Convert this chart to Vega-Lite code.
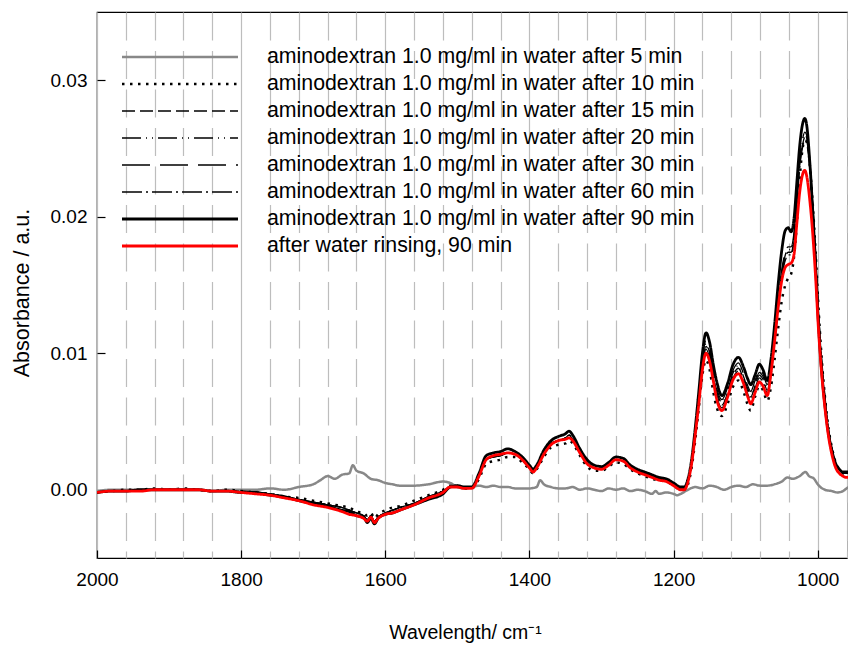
{
"$schema": "https://vega.github.io/schema/vega-lite/v6.json",
"width": 751, "height": 546,
"autosize": {"type": "none"},
"padding": {"left": 97, "top": 12, "right": 0, "bottom": 87},
"background": "white",
"config": {
 "font": "Liberation Sans",
 "view": {"stroke": "#000", "strokeWidth": 1.2},
 "axis": {"domain": false, "labelFont": "Liberation Sans", "titleFont": "Liberation Sans", "labelColor": "#000", "titleColor": "#000", "tickColor": "#000", "titleFontWeight": "normal", "tickWidth": 1.2}
},
"data": {"values": [
{"s":"5","w":2000,"a":-0.0001},{"s":"5","w":1980,"a":0},{"s":"5","w":1960,"a":0},{"s":"5","w":1940,"a":0},{"s":"5","w":1920,"a":0},{"s":"5","w":1900,"a":0},{"s":"5","w":1880,"a":0},{"s":"5","w":1860,"a":0},{"s":"5","w":1840,"a":-0.0001},{"s":"5","w":1820,"a":0},{"s":"5","w":1800,"a":0},{"s":"5","w":1780,"a":0},{"s":"5","w":1760,"a":0.0001},{"s":"5","w":1740,"a":0},{"s":"5","w":1720,"a":0.0002},{"s":"5","w":1700,"a":0.0004},{"s":"5","w":1690,"a":0.0007},{"s":"5","w":1680,"a":0.001},{"s":"5","w":1670,"a":0.0008},{"s":"5","w":1660,"a":0.0011},{"s":"5","w":1650,"a":0.0012},{"s":"5","w":1645,"a":0.0018},{"s":"5","w":1640,"a":0.0014},{"s":"5","w":1630,"a":0.0012},{"s":"5","w":1620,"a":0.0008},{"s":"5","w":1610,"a":0.0007},{"s":"5","w":1600,"a":0.0005},{"s":"5","w":1590,"a":0.0004},{"s":"5","w":1580,"a":0.0003},{"s":"5","w":1560,"a":0.0003},{"s":"5","w":1540,"a":0.0004},{"s":"5","w":1520,"a":0.0006},{"s":"5","w":1510,"a":0.0005},{"s":"5","w":1500,"a":0.0002},{"s":"5","w":1490,"a":0.0001},{"s":"5","w":1480,"a":0.0002},{"s":"5","w":1470,"a":0.0003},{"s":"5","w":1460,"a":0.0002},{"s":"5","w":1450,"a":0.0003},{"s":"5","w":1440,"a":0.0002},{"s":"5","w":1430,"a":0.0002},{"s":"5","w":1420,"a":0.0001},{"s":"5","w":1410,"a":0.0001},{"s":"5","w":1400,"a":0.0001},{"s":"5","w":1390,"a":0.0002},{"s":"5","w":1385,"a":0.0007},{"s":"5","w":1380,"a":0.0004},{"s":"5","w":1370,"a":0.0002},{"s":"5","w":1360,"a":0.0001},{"s":"5","w":1350,"a":0.0001},{"s":"5","w":1340,"a":0.0002},{"s":"5","w":1330,"a":0},{"s":"5","w":1320,"a":0.0001},{"s":"5","w":1310,"a":0},{"s":"5","w":1300,"a":-0.0001},{"s":"5","w":1290,"a":0.0001},{"s":"5","w":1280,"a":0},{"s":"5","w":1270,"a":0.0001},{"s":"5","w":1260,"a":-0.0001},{"s":"5","w":1250,"a":0},{"s":"5","w":1240,"a":-0.0001},{"s":"5","w":1230,"a":-0.0003},{"s":"5","w":1225,"a":-0.0001},{"s":"5","w":1220,"a":-0.0003},{"s":"5","w":1210,"a":-0.0002},{"s":"5","w":1200,"a":-0.0003},{"s":"5","w":1195,"a":-0.0004},{"s":"5","w":1190,"a":-0.0003},{"s":"5","w":1180,"a":0},{"s":"5","w":1170,"a":0.0002},{"s":"5","w":1160,"a":0.0001},{"s":"5","w":1150,"a":0.0003},{"s":"5","w":1140,"a":0.0002},{"s":"5","w":1130,"a":0},{"s":"5","w":1120,"a":0.0002},{"s":"5","w":1110,"a":0.0003},{"s":"5","w":1100,"a":0.0002},{"s":"5","w":1090,"a":0.0004},{"s":"5","w":1080,"a":0.0003},{"s":"5","w":1070,"a":0.0003},{"s":"5","w":1060,"a":0.0004},{"s":"5","w":1050,"a":0.0006},{"s":"5","w":1042,"a":0.0009},{"s":"5","w":1035,"a":0.0008},{"s":"5","w":1025,"a":0.001},{"s":"5","w":1017,"a":0.0013},{"s":"5","w":1012,"a":0.001},{"s":"5","w":1005,"a":0.0008},{"s":"5","w":1000,"a":0.0004},{"s":"5","w":990,"a":0},{"s":"5","w":980,"a":-0.0001},{"s":"5","w":973,"a":-0.0002},{"s":"5","w":965,"a":-0.0001},{"s":"5","w":960,"a":0.0001},{"s":"5","w":957,"a":0.0002},

{"s":"10","w":2000,"a":-0.0002},{"s":"10","w":1980,"a":-0.0001},{"s":"10","w":1960,"a":0},{"s":"10","w":1940,"a":0},{"s":"10","w":1920,"a":0.0001},{"s":"10","w":1900,"a":0},{"s":"10","w":1880,"a":0.0001},{"s":"10","w":1860,"a":0},{"s":"10","w":1840,"a":-0.0001},{"s":"10","w":1820,"a":0},{"s":"10","w":1800,"a":-0.0001},{"s":"10","w":1780,"a":-0.0002},{"s":"10","w":1760,"a":-0.0003},{"s":"10","w":1740,"a":-0.0005},{"s":"10","w":1720,"a":-0.0006},{"s":"10","w":1700,"a":-0.0008},{"s":"10","w":1680,"a":-0.001},{"s":"10","w":1660,"a":-0.0012},{"s":"10","w":1650,"a":-0.0013},{"s":"10","w":1640,"a":-0.0016},{"s":"10","w":1630,"a":-0.0017},{"s":"10","w":1625,"a":-0.0019},{"s":"10","w":1620,"a":-0.0017},{"s":"10","w":1615,"a":-0.0021},{"s":"10","w":1610,"a":-0.0018},{"s":"10","w":1600,"a":-0.0015},{"s":"10","w":1590,"a":-0.0013},{"s":"10","w":1580,"a":-0.0012},{"s":"10","w":1560,"a":-0.0008},{"s":"10","w":1540,"a":-0.0004},{"s":"10","w":1520,"a":0},{"s":"10","w":1510,"a":0.0003},{"s":"10","w":1500,"a":0.0003},{"s":"10","w":1490,"a":0.0001},{"s":"10","w":1480,"a":0.0001},{"s":"10","w":1470,"a":0.0008},{"s":"10","w":1460,"a":0.0019},{"s":"10","w":1450,"a":0.0021},{"s":"10","w":1440,"a":0.0022},{"s":"10","w":1430,"a":0.0024},{"s":"10","w":1420,"a":0.0024},{"s":"10","w":1410,"a":0.002},{"s":"10","w":1400,"a":0.0015},{"s":"10","w":1395,"a":0.0012},{"s":"10","w":1390,"a":0.0015},{"s":"10","w":1380,"a":0.0024},{"s":"10","w":1370,"a":0.0031},{"s":"10","w":1360,"a":0.0033},{"s":"10","w":1350,"a":0.0034},{"s":"10","w":1345,"a":0.0036},{"s":"10","w":1340,"a":0.0034},{"s":"10","w":1330,"a":0.0025},{"s":"10","w":1320,"a":0.0017},{"s":"10","w":1310,"a":0.0014},{"s":"10","w":1300,"a":0.0014},{"s":"10","w":1290,"a":0.0017},{"s":"10","w":1280,"a":0.002},{"s":"10","w":1270,"a":0.0019},{"s":"10","w":1260,"a":0.0015},{"s":"10","w":1250,"a":0.0012},{"s":"10","w":1240,"a":0.001},{"s":"10","w":1230,"a":0.0008},{"s":"10","w":1220,"a":0.0007},{"s":"10","w":1210,"a":0.0006},{"s":"10","w":1200,"a":0.0003},{"s":"10","w":1190,"a":0},{"s":"10","w":1185,"a":0},{"s":"10","w":1180,"a":0.0004},{"s":"10","w":1175,"a":0.0016},{"s":"10","w":1170,"a":0.0036},{"s":"10","w":1165,"a":0.006},{"s":"10","w":1160,"a":0.0084},{"s":"10","w":1155,"a":0.0095},{"s":"10","w":1150,"a":0.0088},{"s":"10","w":1145,"a":0.0072},{"s":"10","w":1140,"a":0.006},{"s":"10","w":1133,"a":0.0054},{"s":"10","w":1125,"a":0.0063},{"s":"10","w":1118,"a":0.0075},{"s":"10","w":1110,"a":0.008},{"s":"10","w":1103,"a":0.0072},{"s":"10","w":1097,"a":0.0062},{"s":"10","w":1093,"a":0.0058},{"s":"10","w":1087,"a":0.0068},{"s":"10","w":1081,"a":0.0076},{"s":"10","w":1076,"a":0.0073},{"s":"10","w":1070,"a":0.0065},{"s":"10","w":1065,"a":0.0075},{"s":"10","w":1060,"a":0.0095},{"s":"10","w":1055,"a":0.0118},{"s":"10","w":1050,"a":0.0138},{"s":"10","w":1045,"a":0.015},{"s":"10","w":1041,"a":0.0155},{"s":"10","w":1037,"a":0.0158},{"s":"10","w":1033,"a":0.017},{"s":"10","w":1029,"a":0.0195},{"s":"10","w":1025,"a":0.0228},{"s":"10","w":1021,"a":0.025},{"s":"10","w":1018,"a":0.0256},{"s":"10","w":1015,"a":0.0255},{"s":"10","w":1011,"a":0.0238},{"s":"10","w":1007,"a":0.021},{"s":"10","w":1003,"a":0.0175},{"s":"10","w":999,"a":0.0134},{"s":"10","w":995,"a":0.01},{"s":"10","w":990,"a":0.0068},{"s":"10","w":985,"a":0.0045},{"s":"10","w":980,"a":0.003},{"s":"10","w":975,"a":0.002},{"s":"10","w":970,"a":0.0015},{"s":"10","w":965,"a":0.0012},{"s":"10","w":960,"a":0.0011},{"s":"10","w":957,"a":0.0011},

{"s":"15","w":2000,"a":-0.0002},{"s":"15","w":1980,"a":-0.0001},{"s":"15","w":1960,"a":-0.0001},{"s":"15","w":1940,"a":0},{"s":"15","w":1920,"a":0},{"s":"15","w":1900,"a":0},{"s":"15","w":1880,"a":0},{"s":"15","w":1860,"a":0},{"s":"15","w":1840,"a":-0.0001},{"s":"15","w":1820,"a":-0.0001},{"s":"15","w":1800,"a":-0.0001},{"s":"15","w":1780,"a":-0.0002},{"s":"15","w":1760,"a":-0.0003},{"s":"15","w":1740,"a":-0.0005},{"s":"15","w":1720,"a":-0.0007},{"s":"15","w":1700,"a":-0.0009},{"s":"15","w":1680,"a":-0.0011},{"s":"15","w":1660,"a":-0.0013},{"s":"15","w":1650,"a":-0.0015},{"s":"15","w":1640,"a":-0.0017},{"s":"15","w":1630,"a":-0.0019},{"s":"15","w":1625,"a":-0.0022},{"s":"15","w":1620,"a":-0.0019},{"s":"15","w":1615,"a":-0.0023},{"s":"15","w":1610,"a":-0.002},{"s":"15","w":1600,"a":-0.0017},{"s":"15","w":1590,"a":-0.0015},{"s":"15","w":1580,"a":-0.0013},{"s":"15","w":1560,"a":-0.001},{"s":"15","w":1540,"a":-0.0005},{"s":"15","w":1520,"a":-0.0001},{"s":"15","w":1510,"a":0.0002},{"s":"15","w":1500,"a":0.0003},{"s":"15","w":1490,"a":0.0002},{"s":"15","w":1480,"a":0.0001},{"s":"15","w":1470,"a":0.001},{"s":"15","w":1460,"a":0.0022},{"s":"15","w":1450,"a":0.0024},{"s":"15","w":1440,"a":0.0025},{"s":"15","w":1430,"a":0.0027},{"s":"15","w":1420,"a":0.0026},{"s":"15","w":1410,"a":0.0022},{"s":"15","w":1400,"a":0.0016},{"s":"15","w":1395,"a":0.0014},{"s":"15","w":1390,"a":0.0016},{"s":"15","w":1380,"a":0.0026},{"s":"15","w":1370,"a":0.0034},{"s":"15","w":1360,"a":0.0036},{"s":"15","w":1350,"a":0.0038},{"s":"15","w":1345,"a":0.004},{"s":"15","w":1340,"a":0.0037},{"s":"15","w":1330,"a":0.0028},{"s":"15","w":1320,"a":0.002},{"s":"15","w":1310,"a":0.0016},{"s":"15","w":1300,"a":0.0015},{"s":"15","w":1290,"a":0.0019},{"s":"15","w":1280,"a":0.0022},{"s":"15","w":1270,"a":0.0021},{"s":"15","w":1260,"a":0.0017},{"s":"15","w":1250,"a":0.0014},{"s":"15","w":1240,"a":0.0012},{"s":"15","w":1230,"a":0.001},{"s":"15","w":1220,"a":0.0008},{"s":"15","w":1210,"a":0.0007},{"s":"15","w":1200,"a":0.0004},{"s":"15","w":1190,"a":0.0001},{"s":"15","w":1185,"a":0.0001},{"s":"15","w":1180,"a":0.0006},{"s":"15","w":1175,"a":0.0019},{"s":"15","w":1170,"a":0.0041},{"s":"15","w":1165,"a":0.0066},{"s":"15","w":1160,"a":0.0092},{"s":"15","w":1155,"a":0.0105},{"s":"15","w":1150,"a":0.0098},{"s":"15","w":1145,"a":0.0082},{"s":"15","w":1140,"a":0.007},{"s":"15","w":1133,"a":0.0062},{"s":"15","w":1125,"a":0.0071},{"s":"15","w":1118,"a":0.0083},{"s":"15","w":1110,"a":0.0089},{"s":"15","w":1103,"a":0.0081},{"s":"15","w":1097,"a":0.0072},{"s":"15","w":1093,"a":0.0068},{"s":"15","w":1087,"a":0.0076},{"s":"15","w":1081,"a":0.0084},{"s":"15","w":1076,"a":0.0081},{"s":"15","w":1070,"a":0.0073},{"s":"15","w":1065,"a":0.0085},{"s":"15","w":1060,"a":0.0108},{"s":"15","w":1055,"a":0.0134},{"s":"15","w":1050,"a":0.0157},{"s":"15","w":1045,"a":0.017},{"s":"15","w":1041,"a":0.0174},{"s":"15","w":1037,"a":0.0174},{"s":"15","w":1033,"a":0.0184},{"s":"15","w":1029,"a":0.021},{"s":"15","w":1025,"a":0.0238},{"s":"15","w":1021,"a":0.0253},{"s":"15","w":1018,"a":0.0258},{"s":"15","w":1015,"a":0.0255},{"s":"15","w":1011,"a":0.0237},{"s":"15","w":1007,"a":0.0207},{"s":"15","w":1003,"a":0.017},{"s":"15","w":999,"a":0.0128},{"s":"15","w":995,"a":0.0095},{"s":"15","w":990,"a":0.0065},{"s":"15","w":985,"a":0.0043},{"s":"15","w":980,"a":0.0029},{"s":"15","w":975,"a":0.0019},{"s":"15","w":970,"a":0.0015},{"s":"15","w":965,"a":0.0012},{"s":"15","w":960,"a":0.0012},{"s":"15","w":957,"a":0.0012},

{"s":"20","w":2000,"a":-0.0002},{"s":"20","w":1980,"a":-0.0001},{"s":"20","w":1960,"a":-0.0001},{"s":"20","w":1940,"a":0},{"s":"20","w":1920,"a":0},{"s":"20","w":1900,"a":0},{"s":"20","w":1880,"a":0},{"s":"20","w":1860,"a":0},{"s":"20","w":1840,"a":-0.0001},{"s":"20","w":1820,"a":-0.0001},{"s":"20","w":1800,"a":-0.0001},{"s":"20","w":1780,"a":-0.0002},{"s":"20","w":1760,"a":-0.0003},{"s":"20","w":1740,"a":-0.0005},{"s":"20","w":1720,"a":-0.0007},{"s":"20","w":1700,"a":-0.0009},{"s":"20","w":1680,"a":-0.0011},{"s":"20","w":1660,"a":-0.0013},{"s":"20","w":1650,"a":-0.0015},{"s":"20","w":1640,"a":-0.0017},{"s":"20","w":1630,"a":-0.0019},{"s":"20","w":1625,"a":-0.0022},{"s":"20","w":1620,"a":-0.0019},{"s":"20","w":1615,"a":-0.0023},{"s":"20","w":1610,"a":-0.002},{"s":"20","w":1600,"a":-0.0017},{"s":"20","w":1590,"a":-0.0015},{"s":"20","w":1580,"a":-0.0013},{"s":"20","w":1560,"a":-0.001},{"s":"20","w":1540,"a":-0.0005},{"s":"20","w":1520,"a":-0.0001},{"s":"20","w":1510,"a":0.0002},{"s":"20","w":1500,"a":0.0003},{"s":"20","w":1490,"a":0.0002},{"s":"20","w":1480,"a":0.0001},{"s":"20","w":1470,"a":0.001},{"s":"20","w":1460,"a":0.0022},{"s":"20","w":1450,"a":0.0024},{"s":"20","w":1440,"a":0.0025},{"s":"20","w":1430,"a":0.0027},{"s":"20","w":1420,"a":0.0026},{"s":"20","w":1410,"a":0.0022},{"s":"20","w":1400,"a":0.0016},{"s":"20","w":1395,"a":0.0014},{"s":"20","w":1390,"a":0.0016},{"s":"20","w":1380,"a":0.0026},{"s":"20","w":1370,"a":0.0034},{"s":"20","w":1360,"a":0.0036},{"s":"20","w":1350,"a":0.0038},{"s":"20","w":1345,"a":0.004},{"s":"20","w":1340,"a":0.0037},{"s":"20","w":1330,"a":0.0028},{"s":"20","w":1320,"a":0.002},{"s":"20","w":1310,"a":0.0016},{"s":"20","w":1300,"a":0.0015},{"s":"20","w":1290,"a":0.0019},{"s":"20","w":1280,"a":0.0022},{"s":"20","w":1270,"a":0.0021},{"s":"20","w":1260,"a":0.0017},{"s":"20","w":1250,"a":0.0014},{"s":"20","w":1240,"a":0.0012},{"s":"20","w":1230,"a":0.001},{"s":"20","w":1220,"a":0.0008},{"s":"20","w":1210,"a":0.0007},{"s":"20","w":1200,"a":0.0004},{"s":"20","w":1190,"a":0.0001},{"s":"20","w":1185,"a":0.0001},{"s":"20","w":1180,"a":0.0006},{"s":"20","w":1175,"a":0.0019},{"s":"20","w":1170,"a":0.0043},{"s":"20","w":1165,"a":0.0068},{"s":"20","w":1160,"a":0.0094},{"s":"20","w":1155,"a":0.0107},{"s":"20","w":1150,"a":0.01},{"s":"20","w":1145,"a":0.0084},{"s":"20","w":1140,"a":0.0072},{"s":"20","w":1133,"a":0.0064},{"s":"20","w":1125,"a":0.0073},{"s":"20","w":1118,"a":0.0085},{"s":"20","w":1110,"a":0.0091},{"s":"20","w":1103,"a":0.0083},{"s":"20","w":1097,"a":0.0074},{"s":"20","w":1093,"a":0.007},{"s":"20","w":1087,"a":0.0078},{"s":"20","w":1081,"a":0.0086},{"s":"20","w":1076,"a":0.0083},{"s":"20","w":1070,"a":0.0075},{"s":"20","w":1065,"a":0.0087},{"s":"20","w":1060,"a":0.011},{"s":"20","w":1055,"a":0.0136},{"s":"20","w":1050,"a":0.0159},{"s":"20","w":1045,"a":0.0172},{"s":"20","w":1041,"a":0.0176},{"s":"20","w":1037,"a":0.0176},{"s":"20","w":1033,"a":0.0186},{"s":"20","w":1029,"a":0.0212},{"s":"20","w":1025,"a":0.024},{"s":"20","w":1021,"a":0.0255},{"s":"20","w":1018,"a":0.026},{"s":"20","w":1015,"a":0.0257},{"s":"20","w":1011,"a":0.0239},{"s":"20","w":1007,"a":0.0209},{"s":"20","w":1003,"a":0.0172},{"s":"20","w":999,"a":0.013},{"s":"20","w":995,"a":0.0097},{"s":"20","w":990,"a":0.0067},{"s":"20","w":985,"a":0.0043},{"s":"20","w":980,"a":0.0029},{"s":"20","w":975,"a":0.0019},{"s":"20","w":970,"a":0.0015},{"s":"20","w":965,"a":0.0012},{"s":"20","w":960,"a":0.0012},{"s":"20","w":957,"a":0.0012},

{"s":"30","w":2000,"a":-0.0002},{"s":"30","w":1980,"a":-0.0001},{"s":"30","w":1960,"a":-0.0001},{"s":"30","w":1940,"a":0},{"s":"30","w":1920,"a":0},{"s":"30","w":1900,"a":0},{"s":"30","w":1880,"a":0},{"s":"30","w":1860,"a":0},{"s":"30","w":1840,"a":-0.0001},{"s":"30","w":1820,"a":-0.0001},{"s":"30","w":1800,"a":-0.0001},{"s":"30","w":1780,"a":-0.0002},{"s":"30","w":1760,"a":-0.0003},{"s":"30","w":1740,"a":-0.0005},{"s":"30","w":1720,"a":-0.0007},{"s":"30","w":1700,"a":-0.0009},{"s":"30","w":1680,"a":-0.0011},{"s":"30","w":1660,"a":-0.0013},{"s":"30","w":1650,"a":-0.0015},{"s":"30","w":1640,"a":-0.0017},{"s":"30","w":1630,"a":-0.0019},{"s":"30","w":1625,"a":-0.0022},{"s":"30","w":1620,"a":-0.0019},{"s":"30","w":1615,"a":-0.0023},{"s":"30","w":1610,"a":-0.002},{"s":"30","w":1600,"a":-0.0017},{"s":"30","w":1590,"a":-0.0015},{"s":"30","w":1580,"a":-0.0013},{"s":"30","w":1560,"a":-0.001},{"s":"30","w":1540,"a":-0.0005},{"s":"30","w":1520,"a":-0.0001},{"s":"30","w":1510,"a":0.0002},{"s":"30","w":1500,"a":0.0003},{"s":"30","w":1490,"a":0.0002},{"s":"30","w":1480,"a":0.0001},{"s":"30","w":1470,"a":0.001},{"s":"30","w":1460,"a":0.0022},{"s":"30","w":1450,"a":0.0024},{"s":"30","w":1440,"a":0.0025},{"s":"30","w":1430,"a":0.0027},{"s":"30","w":1420,"a":0.0026},{"s":"30","w":1410,"a":0.0022},{"s":"30","w":1400,"a":0.0016},{"s":"30","w":1395,"a":0.0014},{"s":"30","w":1390,"a":0.0016},{"s":"30","w":1380,"a":0.0026},{"s":"30","w":1370,"a":0.0034},{"s":"30","w":1360,"a":0.0036},{"s":"30","w":1350,"a":0.0038},{"s":"30","w":1345,"a":0.004},{"s":"30","w":1340,"a":0.0037},{"s":"30","w":1330,"a":0.0028},{"s":"30","w":1320,"a":0.002},{"s":"30","w":1310,"a":0.0016},{"s":"30","w":1300,"a":0.0015},{"s":"30","w":1290,"a":0.0019},{"s":"30","w":1280,"a":0.0022},{"s":"30","w":1270,"a":0.0021},{"s":"30","w":1260,"a":0.0017},{"s":"30","w":1250,"a":0.0014},{"s":"30","w":1240,"a":0.0012},{"s":"30","w":1230,"a":0.001},{"s":"30","w":1220,"a":0.0008},{"s":"30","w":1210,"a":0.0007},{"s":"30","w":1200,"a":0.0004},{"s":"30","w":1190,"a":0.0001},{"s":"30","w":1185,"a":0.0001},{"s":"30","w":1180,"a":0.0006},{"s":"30","w":1175,"a":0.0019},{"s":"30","w":1170,"a":0.0045},{"s":"30","w":1165,"a":0.007},{"s":"30","w":1160,"a":0.0096},{"s":"30","w":1155,"a":0.0109},{"s":"30","w":1150,"a":0.0102},{"s":"30","w":1145,"a":0.0086},{"s":"30","w":1140,"a":0.0074},{"s":"30","w":1133,"a":0.0066},{"s":"30","w":1125,"a":0.0075},{"s":"30","w":1118,"a":0.0087},{"s":"30","w":1110,"a":0.0093},{"s":"30","w":1103,"a":0.0085},{"s":"30","w":1097,"a":0.0076},{"s":"30","w":1093,"a":0.0072},{"s":"30","w":1087,"a":0.008},{"s":"30","w":1081,"a":0.0088},{"s":"30","w":1076,"a":0.0085},{"s":"30","w":1070,"a":0.0077},{"s":"30","w":1065,"a":0.0089},{"s":"30","w":1060,"a":0.0112},{"s":"30","w":1055,"a":0.0138},{"s":"30","w":1050,"a":0.0161},{"s":"30","w":1045,"a":0.0174},{"s":"30","w":1041,"a":0.0178},{"s":"30","w":1037,"a":0.0178},{"s":"30","w":1033,"a":0.0188},{"s":"30","w":1029,"a":0.0214},{"s":"30","w":1025,"a":0.0242},{"s":"30","w":1021,"a":0.0257},{"s":"30","w":1018,"a":0.0262},{"s":"30","w":1015,"a":0.0259},{"s":"30","w":1011,"a":0.0241},{"s":"30","w":1007,"a":0.0211},{"s":"30","w":1003,"a":0.0174},{"s":"30","w":999,"a":0.0132},{"s":"30","w":995,"a":0.0099},{"s":"30","w":990,"a":0.0069},{"s":"30","w":985,"a":0.0043},{"s":"30","w":980,"a":0.0029},{"s":"30","w":975,"a":0.0019},{"s":"30","w":970,"a":0.0015},{"s":"30","w":965,"a":0.0012},{"s":"30","w":960,"a":0.0012},{"s":"30","w":957,"a":0.0012},

{"s":"60","w":2000,"a":-0.0002},{"s":"60","w":1980,"a":-0.0001},{"s":"60","w":1960,"a":-0.0001},{"s":"60","w":1940,"a":0},{"s":"60","w":1920,"a":0},{"s":"60","w":1900,"a":0},{"s":"60","w":1880,"a":0},{"s":"60","w":1860,"a":0},{"s":"60","w":1840,"a":-0.0001},{"s":"60","w":1820,"a":-0.0001},{"s":"60","w":1800,"a":-0.0001},{"s":"60","w":1780,"a":-0.0002},{"s":"60","w":1760,"a":-0.0003},{"s":"60","w":1740,"a":-0.0005},{"s":"60","w":1720,"a":-0.0007},{"s":"60","w":1700,"a":-0.0009},{"s":"60","w":1680,"a":-0.0011},{"s":"60","w":1660,"a":-0.0013},{"s":"60","w":1650,"a":-0.0015},{"s":"60","w":1640,"a":-0.0017},{"s":"60","w":1630,"a":-0.0019},{"s":"60","w":1625,"a":-0.0022},{"s":"60","w":1620,"a":-0.0019},{"s":"60","w":1615,"a":-0.0023},{"s":"60","w":1610,"a":-0.002},{"s":"60","w":1600,"a":-0.0017},{"s":"60","w":1590,"a":-0.0015},{"s":"60","w":1580,"a":-0.0013},{"s":"60","w":1560,"a":-0.001},{"s":"60","w":1540,"a":-0.0005},{"s":"60","w":1520,"a":-0.0001},{"s":"60","w":1510,"a":0.0002},{"s":"60","w":1500,"a":0.0003},{"s":"60","w":1490,"a":0.0002},{"s":"60","w":1480,"a":0.0001},{"s":"60","w":1470,"a":0.001},{"s":"60","w":1460,"a":0.0022},{"s":"60","w":1450,"a":0.0024},{"s":"60","w":1440,"a":0.0025},{"s":"60","w":1430,"a":0.0027},{"s":"60","w":1420,"a":0.0026},{"s":"60","w":1410,"a":0.0022},{"s":"60","w":1400,"a":0.0016},{"s":"60","w":1395,"a":0.0014},{"s":"60","w":1390,"a":0.0016},{"s":"60","w":1380,"a":0.0026},{"s":"60","w":1370,"a":0.0034},{"s":"60","w":1360,"a":0.0036},{"s":"60","w":1350,"a":0.0038},{"s":"60","w":1345,"a":0.004},{"s":"60","w":1340,"a":0.0037},{"s":"60","w":1330,"a":0.0028},{"s":"60","w":1320,"a":0.002},{"s":"60","w":1310,"a":0.0016},{"s":"60","w":1300,"a":0.0015},{"s":"60","w":1290,"a":0.0019},{"s":"60","w":1280,"a":0.0022},{"s":"60","w":1270,"a":0.0021},{"s":"60","w":1260,"a":0.0017},{"s":"60","w":1250,"a":0.0014},{"s":"60","w":1240,"a":0.0012},{"s":"60","w":1230,"a":0.001},{"s":"60","w":1220,"a":0.0008},{"s":"60","w":1210,"a":0.0007},{"s":"60","w":1200,"a":0.0004},{"s":"60","w":1190,"a":0.0001},{"s":"60","w":1185,"a":0.0001},{"s":"60","w":1180,"a":0.0006},{"s":"60","w":1175,"a":0.0019},{"s":"60","w":1170,"a":0.0039},{"s":"60","w":1165,"a":0.0064},{"s":"60","w":1160,"a":0.009},{"s":"60","w":1155,"a":0.0103},{"s":"60","w":1150,"a":0.0096},{"s":"60","w":1145,"a":0.008},{"s":"60","w":1140,"a":0.0068},{"s":"60","w":1133,"a":0.006},{"s":"60","w":1125,"a":0.0069},{"s":"60","w":1118,"a":0.0081},{"s":"60","w":1110,"a":0.0087},{"s":"60","w":1103,"a":0.0079},{"s":"60","w":1097,"a":0.007},{"s":"60","w":1093,"a":0.0066},{"s":"60","w":1087,"a":0.0074},{"s":"60","w":1081,"a":0.0082},{"s":"60","w":1076,"a":0.0079},{"s":"60","w":1070,"a":0.0071},{"s":"60","w":1065,"a":0.0083},{"s":"60","w":1060,"a":0.0106},{"s":"60","w":1055,"a":0.0132},{"s":"60","w":1050,"a":0.0155},{"s":"60","w":1045,"a":0.0168},{"s":"60","w":1041,"a":0.0172},{"s":"60","w":1037,"a":0.0172},{"s":"60","w":1033,"a":0.0182},{"s":"60","w":1029,"a":0.0208},{"s":"60","w":1025,"a":0.0236},{"s":"60","w":1021,"a":0.0251},{"s":"60","w":1018,"a":0.0256},{"s":"60","w":1015,"a":0.0253},{"s":"60","w":1011,"a":0.0235},{"s":"60","w":1007,"a":0.0205},{"s":"60","w":1003,"a":0.0168},{"s":"60","w":999,"a":0.0126},{"s":"60","w":995,"a":0.0093},{"s":"60","w":990,"a":0.0063},{"s":"60","w":985,"a":0.0043},{"s":"60","w":980,"a":0.0029},{"s":"60","w":975,"a":0.0019},{"s":"60","w":970,"a":0.0015},{"s":"60","w":965,"a":0.0012},{"s":"60","w":960,"a":0.0012},{"s":"60","w":957,"a":0.0012},

{"s":"90","w":2000,"a":-0.0002},{"s":"90","w":1980,"a":-0.0001},{"s":"90","w":1960,"a":-0.0001},{"s":"90","w":1940,"a":0},{"s":"90","w":1920,"a":0},{"s":"90","w":1900,"a":0},{"s":"90","w":1880,"a":0},{"s":"90","w":1860,"a":0},{"s":"90","w":1840,"a":-0.0001},{"s":"90","w":1820,"a":-0.0001},{"s":"90","w":1800,"a":-0.0002},{"s":"90","w":1780,"a":-0.0002},{"s":"90","w":1760,"a":-0.0004},{"s":"90","w":1740,"a":-0.0005},{"s":"90","w":1720,"a":-0.0008},{"s":"90","w":1700,"a":-0.001},{"s":"90","w":1680,"a":-0.0012},{"s":"90","w":1660,"a":-0.0015},{"s":"90","w":1650,"a":-0.0016},{"s":"90","w":1640,"a":-0.0019},{"s":"90","w":1630,"a":-0.002},{"s":"90","w":1625,"a":-0.0024},{"s":"90","w":1620,"a":-0.0021},{"s":"90","w":1615,"a":-0.0025},{"s":"90","w":1610,"a":-0.0021},{"s":"90","w":1600,"a":-0.0018},{"s":"90","w":1590,"a":-0.0017},{"s":"90","w":1580,"a":-0.0015},{"s":"90","w":1560,"a":-0.0011},{"s":"90","w":1540,"a":-0.0007},{"s":"90","w":1520,"a":-0.0003},{"s":"90","w":1510,"a":0.0002},{"s":"90","w":1500,"a":0.0003},{"s":"90","w":1490,"a":0.0002},{"s":"90","w":1480,"a":0.0002},{"s":"90","w":1470,"a":0.0012},{"s":"90","w":1460,"a":0.0025},{"s":"90","w":1450,"a":0.0027},{"s":"90","w":1440,"a":0.0028},{"s":"90","w":1430,"a":0.003},{"s":"90","w":1420,"a":0.0028},{"s":"90","w":1410,"a":0.0024},{"s":"90","w":1400,"a":0.0018},{"s":"90","w":1395,"a":0.0015},{"s":"90","w":1390,"a":0.0018},{"s":"90","w":1380,"a":0.0029},{"s":"90","w":1370,"a":0.0036},{"s":"90","w":1360,"a":0.0039},{"s":"90","w":1350,"a":0.0041},{"s":"90","w":1345,"a":0.0043},{"s":"90","w":1340,"a":0.004},{"s":"90","w":1330,"a":0.003},{"s":"90","w":1320,"a":0.0022},{"s":"90","w":1310,"a":0.0018},{"s":"90","w":1300,"a":0.0017},{"s":"90","w":1290,"a":0.002},{"s":"90","w":1280,"a":0.0024},{"s":"90","w":1270,"a":0.0023},{"s":"90","w":1260,"a":0.0018},{"s":"90","w":1250,"a":0.0015},{"s":"90","w":1240,"a":0.0013},{"s":"90","w":1230,"a":0.0011},{"s":"90","w":1220,"a":0.0009},{"s":"90","w":1210,"a":0.0008},{"s":"90","w":1200,"a":0.0005},{"s":"90","w":1190,"a":0.0002},{"s":"90","w":1185,"a":0.0002},{"s":"90","w":1180,"a":0.0008},{"s":"90","w":1175,"a":0.0022},{"s":"90","w":1170,"a":0.0045},{"s":"90","w":1165,"a":0.0072},{"s":"90","w":1160,"a":0.01},{"s":"90","w":1155,"a":0.0115},{"s":"90","w":1150,"a":0.0108},{"s":"90","w":1145,"a":0.0092},{"s":"90","w":1140,"a":0.0079},{"s":"90","w":1133,"a":0.0069},{"s":"90","w":1125,"a":0.0078},{"s":"90","w":1118,"a":0.0091},{"s":"90","w":1110,"a":0.0097},{"s":"90","w":1103,"a":0.009},{"s":"90","w":1097,"a":0.0081},{"s":"90","w":1093,"a":0.0077},{"s":"90","w":1087,"a":0.0084},{"s":"90","w":1081,"a":0.0092},{"s":"90","w":1076,"a":0.0088},{"s":"90","w":1070,"a":0.008},{"s":"90","w":1065,"a":0.0095},{"s":"90","w":1060,"a":0.012},{"s":"90","w":1055,"a":0.015},{"s":"90","w":1050,"a":0.0175},{"s":"90","w":1045,"a":0.019},{"s":"90","w":1041,"a":0.0192},{"s":"90","w":1037,"a":0.0189},{"s":"90","w":1033,"a":0.0198},{"s":"90","w":1029,"a":0.0225},{"s":"90","w":1025,"a":0.0252},{"s":"90","w":1021,"a":0.0268},{"s":"90","w":1018,"a":0.0272},{"s":"90","w":1015,"a":0.0266},{"s":"90","w":1011,"a":0.024},{"s":"90","w":1007,"a":0.0205},{"s":"90","w":1003,"a":0.0165},{"s":"90","w":999,"a":0.0122},{"s":"90","w":995,"a":0.009},{"s":"90","w":990,"a":0.0062},{"s":"90","w":985,"a":0.0041},{"s":"90","w":980,"a":0.0028},{"s":"90","w":975,"a":0.0019},{"s":"90","w":970,"a":0.0015},{"s":"90","w":965,"a":0.0013},{"s":"90","w":960,"a":0.0013},{"s":"90","w":957,"a":0.0013},

{"s":"rinse","w":2000,"a":-0.0002},{"s":"rinse","w":1980,"a":-0.0001},{"s":"rinse","w":1960,"a":-0.0001},{"s":"rinse","w":1940,"a":-0.0001},{"s":"rinse","w":1920,"a":0},{"s":"rinse","w":1900,"a":0},{"s":"rinse","w":1880,"a":0},{"s":"rinse","w":1860,"a":0},{"s":"rinse","w":1840,"a":-0.0001},{"s":"rinse","w":1820,"a":-0.0001},{"s":"rinse","w":1800,"a":-0.0002},{"s":"rinse","w":1780,"a":-0.0003},{"s":"rinse","w":1760,"a":-0.0004},{"s":"rinse","w":1740,"a":-0.0006},{"s":"rinse","w":1720,"a":-0.0008},{"s":"rinse","w":1700,"a":-0.0011},{"s":"rinse","w":1680,"a":-0.0013},{"s":"rinse","w":1660,"a":-0.0016},{"s":"rinse","w":1650,"a":-0.0018},{"s":"rinse","w":1640,"a":-0.0019},{"s":"rinse","w":1630,"a":-0.0021},{"s":"rinse","w":1625,"a":-0.0023},{"s":"rinse","w":1620,"a":-0.002},{"s":"rinse","w":1615,"a":-0.0024},{"s":"rinse","w":1610,"a":-0.0021},{"s":"rinse","w":1600,"a":-0.0018},{"s":"rinse","w":1590,"a":-0.0017},{"s":"rinse","w":1580,"a":-0.0015},{"s":"rinse","w":1560,"a":-0.0011},{"s":"rinse","w":1540,"a":-0.0006},{"s":"rinse","w":1520,"a":-0.0002},{"s":"rinse","w":1510,"a":0.0002},{"s":"rinse","w":1500,"a":0.0002},{"s":"rinse","w":1490,"a":0.0001},{"s":"rinse","w":1480,"a":0.0001},{"s":"rinse","w":1470,"a":0.001},{"s":"rinse","w":1460,"a":0.0022},{"s":"rinse","w":1450,"a":0.0025},{"s":"rinse","w":1440,"a":0.0026},{"s":"rinse","w":1430,"a":0.0027},{"s":"rinse","w":1420,"a":0.0026},{"s":"rinse","w":1410,"a":0.0022},{"s":"rinse","w":1400,"a":0.0016},{"s":"rinse","w":1395,"a":0.0013},{"s":"rinse","w":1390,"a":0.0016},{"s":"rinse","w":1380,"a":0.0026},{"s":"rinse","w":1370,"a":0.0033},{"s":"rinse","w":1360,"a":0.0036},{"s":"rinse","w":1350,"a":0.0037},{"s":"rinse","w":1345,"a":0.0038},{"s":"rinse","w":1340,"a":0.0036},{"s":"rinse","w":1330,"a":0.0027},{"s":"rinse","w":1320,"a":0.0019},{"s":"rinse","w":1310,"a":0.0016},{"s":"rinse","w":1300,"a":0.0015},{"s":"rinse","w":1290,"a":0.0018},{"s":"rinse","w":1280,"a":0.0022},{"s":"rinse","w":1270,"a":0.0021},{"s":"rinse","w":1260,"a":0.0016},{"s":"rinse","w":1250,"a":0.0013},{"s":"rinse","w":1240,"a":0.0011},{"s":"rinse","w":1230,"a":0.0009},{"s":"rinse","w":1220,"a":0.0007},{"s":"rinse","w":1210,"a":0.0006},{"s":"rinse","w":1200,"a":0.0003},{"s":"rinse","w":1190,"a":0},{"s":"rinse","w":1185,"a":0},{"s":"rinse","w":1180,"a":0.0006},{"s":"rinse","w":1175,"a":0.0019},{"s":"rinse","w":1170,"a":0.004},{"s":"rinse","w":1165,"a":0.0063},{"s":"rinse","w":1160,"a":0.0088},{"s":"rinse","w":1155,"a":0.01},{"s":"rinse","w":1150,"a":0.0094},{"s":"rinse","w":1145,"a":0.008},{"s":"rinse","w":1140,"a":0.0066},{"s":"rinse","w":1133,"a":0.0058},{"s":"rinse","w":1125,"a":0.0068},{"s":"rinse","w":1118,"a":0.008},{"s":"rinse","w":1110,"a":0.0085},{"s":"rinse","w":1103,"a":0.0078},{"s":"rinse","w":1097,"a":0.0068},{"s":"rinse","w":1093,"a":0.0063},{"s":"rinse","w":1087,"a":0.0071},{"s":"rinse","w":1081,"a":0.0079},{"s":"rinse","w":1076,"a":0.0076},{"s":"rinse","w":1070,"a":0.0069},{"s":"rinse","w":1065,"a":0.0085},{"s":"rinse","w":1060,"a":0.0108},{"s":"rinse","w":1055,"a":0.0133},{"s":"rinse","w":1050,"a":0.0153},{"s":"rinse","w":1045,"a":0.0163},{"s":"rinse","w":1041,"a":0.0165},{"s":"rinse","w":1037,"a":0.0166},{"s":"rinse","w":1033,"a":0.0172},{"s":"rinse","w":1029,"a":0.0195},{"s":"rinse","w":1025,"a":0.0218},{"s":"rinse","w":1021,"a":0.0231},{"s":"rinse","w":1018,"a":0.0234},{"s":"rinse","w":1015,"a":0.0229},{"s":"rinse","w":1011,"a":0.0212},{"s":"rinse","w":1007,"a":0.0188},{"s":"rinse","w":1003,"a":0.0156},{"s":"rinse","w":999,"a":0.0118},{"s":"rinse","w":995,"a":0.0088},{"s":"rinse","w":990,"a":0.006},{"s":"rinse","w":985,"a":0.0039},{"s":"rinse","w":980,"a":0.0025},{"s":"rinse","w":975,"a":0.0016},{"s":"rinse","w":970,"a":0.0012},{"s":"rinse","w":965,"a":0.001},{"s":"rinse","w":960,"a":0.0009},{"s":"rinse","w":957,"a":0.0009}
]},
"mark": {"type": "line", "clip": true, "interpolate": "monotone"},
"encoding": {
 "x": {"field": "w", "type": "quantitative",
  "scale": {"domain": [958, 2000], "reverse": true, "nice": false, "zero": false},
  "axis": {"values": [2000,1960,1920,1880,1840,1800,1760,1720,1680,1640,1600,1560,1520,1480,1440,1400,1360,1320,1280,1240,1200,1160,1120,1080,1040,1000,960],
   "labelExpr": "datum.value % 200 === 0 ? datum.value : ''",
   "labelFontSize": 19, "labelPadding": 20, "tickSize": -8,
   "tickOpacity": {"condition": {"test": "datum.value % 200 === 0", "value": 1}, "value": 0},
   "grid": true, "gridColor": "#bdbdbd", "gridWidth": 1.2,
   "gridDash": {"condition": {"test": "datum.value % 200 === 0", "value": []}, "value": [28, 10.5]},
   "labelFlush": false, "labelOverlap": false, "labelBound": false,
   "title": "Wavelength/ cm⁻¹", "titleFontSize": 19.5, "titleX": 368, "titleY": 80, "titleBaseline": "alphabetic"}},
 "y": {"field": "a", "type": "quantitative",
  "scale": {"domain": [-0.005, 0.035], "nice": false, "zero": false},
  "axis": {"values": [0, 0.01, 0.02, 0.03], "format": ".2f", "grid": false, "tickSize": -8, "labelPadding": 18, "labelFontSize": 19, "labelFlush": false,
   "title": "Absorbance / a.u.", "titleFontSize": 21.5, "titleX": -69, "titleY": 280.5, "titleBaseline": "alphabetic", "titleAngle": 270}},
 "color": {"field": "s", "type": "nominal",
  "scale": {"domain": ["5","10","15","20","30","60","90","rinse"], "range": ["#888888","#000000","#000000","#000000","#000000","#000000","#000000","#ff0000"]},
  "legend": {"orient": "none", "legendX": 72.35, "legendY": 34.35, "title": null, "padding": 0, "symbolType": "M-11.6,0H11.6", "symbolSize": 100, "labelFontSize": 21.3, "labelFont": "Liberation Sans", "labelColor": "#000", "labelOffset": 76.35, "rowPadding": 5, "labelLimit": 0,
   "labelExpr": "datum.label == 'rinse' ? 'after water rinsing, 90 min' : 'aminodextran 1.0 mg/ml in water after ' + datum.label + ' min'"}},
 "strokeDash": {"field": "s", "type": "nominal",
  "scale": {"domain": ["5","10","15","20","30","60","90","rinse"], "range": [[1,0],[2.5,5.5],[13,5],[19,5,1,5,1,5],[28,10],[20,4,2,4],[1,0],[1,0]]},
  "legend": {"orient": "none", "legendX": 72.35, "legendY": 34.35, "title": null, "padding": 0, "symbolType": "M-11.6,0H11.6", "symbolSize": 100, "labelFontSize": 21.3, "labelFont": "Liberation Sans", "labelColor": "#000", "labelOffset": 76.35, "rowPadding": 5, "labelLimit": 0,
   "labelExpr": "datum.label == 'rinse' ? 'after water rinsing, 90 min' : 'aminodextran 1.0 mg/ml in water after ' + datum.label + ' min'"}},
 "strokeWidth": {"field": "s", "type": "nominal",
  "scale": {"type": "ordinal", "domain": ["5","10","15","20","30","60","90","rinse"], "range": [2.5,2.5,1.3,1.3,1.3,1.3,2.8,2.8]},
  "legend": {"orient": "none", "legendX": 72.35, "legendY": 34.35, "title": null, "padding": 0, "symbolType": "M-11.6,0H11.6", "symbolSize": 100, "labelFontSize": 21.3, "labelFont": "Liberation Sans", "labelColor": "#000", "labelOffset": 76.35, "rowPadding": 5, "labelLimit": 0,
   "labelExpr": "datum.label == 'rinse' ? 'after water rinsing, 90 min' : 'aminodextran 1.0 mg/ml in water after ' + datum.label + ' min'"}}
}
}
